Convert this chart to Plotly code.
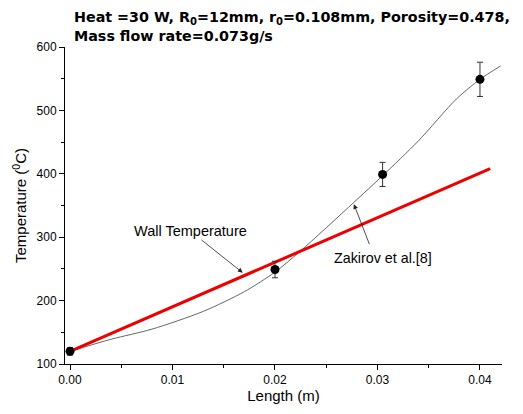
import plotly.graph_objects as go

# Experimental data (points with error bars)
exp_x = [0.0, 0.02, 0.0305, 0.04]
exp_y = [120, 249, 399, 549]
exp_err = [6, 13, 19, 27]

# Zakirov et al. [8] curve
zak_x = [0.0, 0.004, 0.008, 0.013, 0.017, 0.02, 0.0224, 0.0277, 0.0305, 0.034, 0.0377, 0.04, 0.042]
zak_y = [120, 139, 155, 183, 214, 245, 277, 355, 397, 452, 518, 549, 570]

# Wall temperature line
wall_x = [0.0, 0.041]
wall_y = [120, 408]

x_ticks = [0.0, 0.01, 0.02, 0.03, 0.04]
x_tick_labels = ["0.00", "0.01", "0.02", "0.03", "0.04"]
y_ticks = [100, 200, 300, 400, 500, 600]

font_family = "Liberation Sans, Arial, sans-serif"
title_family = "DejaVu Sans, sans-serif"

fig = go.Figure()
fig.add_trace(go.Scatter(x=zak_x, y=zak_y, mode="lines",
                         line=dict(color="#555555", width=0.9, shape="spline", smoothing=0.8),
                         showlegend=False))
fig.add_trace(go.Scatter(x=wall_x, y=wall_y, mode="lines",
                         line=dict(color="#ee0000", width=3),
                         showlegend=False))
fig.add_trace(go.Scatter(x=exp_x, y=exp_y, mode="markers",
                         marker=dict(color="black", size=9),
                         error_y=dict(type="data", array=exp_err, color="#333333",
                                      thickness=1, width=3),
                         showlegend=False))

fig.add_annotation(x=0.01685, y=244, ax=0.01268, ay=297.5, axref="x", ayref="y",
                   text="", showarrow=True, arrowhead=2, arrowsize=1.2,
                   arrowwidth=0.8, arrowcolor="#222222")
fig.add_annotation(x=0.0277, y=352, ax=0.02927, ay=286.5, axref="x", ayref="y",
                   text="", showarrow=True, arrowhead=2, arrowsize=1.2,
                   arrowwidth=0.8, arrowcolor="#222222")

fig.add_annotation(text="Wall Temperature", xref="paper", yref="paper",
                   x=(190 - 65) / 437, y=(366 - 232) / 319, showarrow=False,
                   xanchor="center", yanchor="middle",
                   font=dict(size=14.5, color="black", family=font_family))
fig.add_annotation(text="Zakirov et al.[8]", xref="paper", yref="paper",
                   x=(383 - 65) / 437, y=(366 - 259) / 319, showarrow=False,
                   xanchor="center", yanchor="middle",
                   font=dict(size=14.3, color="black", family=font_family))

fig.add_annotation(
    text="<b>Heat =30 W, R<sub>0</sub>=12mm, r<sub>0</sub>=0.108mm, Porosity=0.478,<br>Mass flow rate=0.073g/s</b>",
    xref="paper", yref="paper", x=(72 - 65) / 437, y=(366 - 7) / 319,
    xanchor="left", yanchor="top", align="left", showarrow=False,
    font=dict(size=14.3, color="black", family=title_family))

fig.update_layout(
    width=523, height=414,
    margin=dict(l=65, r=21, t=47, b=48),
    plot_bgcolor="white", paper_bgcolor="white",
    font=dict(family=font_family, color="black"),
    xaxis=dict(range=[-0.00049, 0.04215], tickvals=x_ticks, ticktext=x_tick_labels,
               showgrid=False, zeroline=False, showline=True, linecolor="black", linewidth=1,
               ticks="outside", ticklen=5, tickcolor="black",
               minor=dict(ticks="outside", ticklen=3, dtick=0.005, tickcolor="black"),
               tickfont=dict(size=12), title=dict(text="Length (m)", font=dict(size=15), standoff=4)),
    yaxis=dict(range=[100, 600], tickvals=y_ticks,
               showgrid=False, zeroline=False, showline=True, linecolor="black", linewidth=1,
               ticks="outside", ticklen=5, tickcolor="black",
               minor=dict(ticks="outside", ticklen=3, dtick=50, tickcolor="black"),
               tickfont=dict(size=12), title=dict(text="Temperature (<sup>0</sup>C)", font=dict(size=15), standoff=6)),
)

fig.write_html("out.html")
